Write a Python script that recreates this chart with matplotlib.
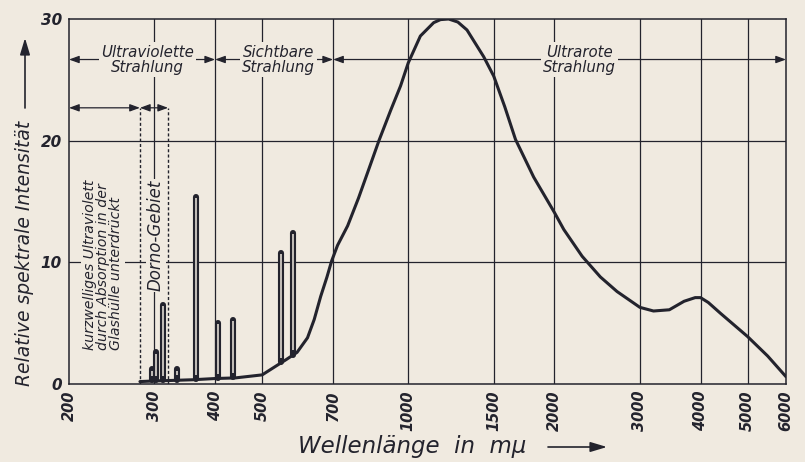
import numpy as np
import matplotlib
matplotlib.use('Agg')
import matplotlib.pyplot as plt

# continuum of the lamp spectrum (wavelength in m-mu, relative intensity)
cont_wl = [280, 300, 330, 360, 400, 440, 500, 540, 560, 590, 620, 640, 660, 680, 695,
           715, 750, 790, 830, 870, 920, 964, 1000, 1059, 1128, 1165, 1211, 1265, 1321,
           1430, 1500, 1580, 1663, 1813, 2000, 2091, 2281, 2487, 2692, 3000, 3200, 3450,
           3700, 3900, 4000, 4150, 4400, 5000, 5500, 6000]
cont_val = [0.2, 0.25, 0.3, 0.35, 0.45, 0.5, 0.75, 1.6, 2.0, 2.6, 3.8, 5.3, 7.2, 8.8, 10.1,
            11.4, 13.0, 15.3, 17.7, 20.0, 22.5, 24.5, 26.4, 28.6, 29.7, 29.95, 30.0, 29.75, 29.1,
            26.9, 25.3, 22.8, 20.1, 17.0, 14.1, 12.7, 10.5, 8.8, 7.6, 6.3, 6.0, 6.1,
            6.8, 7.1, 7.1, 6.7, 5.8, 3.9, 2.3, 0.6]

# mercury lines
line_wl = [297, 302, 313, 334, 365, 405, 436, 546, 578]
line_peak = [1.2, 2.6, 6.5, 1.2, 15.4, 5.0, 5.3, 10.8, 12.4]

xticks = [200, 300, 400, 500, 700, 1000, 1500, 2000, 3000, 4000, 5000, 6000]
yticks = [0, 10, 20, 30]

bg = '#f0eae0'
ink = '#23232d'
txt = dict(family='DejaVu Sans', style='oblique', color=ink)

fig = plt.figure(figsize=(8.05, 4.62), dpi=100, facecolor=bg)
ax = fig.add_axes([69/805, 1-384/462, 717/805, 365/462])
ax.set_facecolor(bg)
ax.set_xscale('log')
ax.set_xlim(200, 6000)
ax.set_ylim(0, 30)

ax.set_xticks(xticks)
ax.set_xticklabels([str(t) for t in xticks], rotation=90, fontsize=10.5,
                   fontweight='bold', **txt)
ax.xaxis.set_minor_locator(matplotlib.ticker.NullLocator())
ax.set_yticks(yticks)
ax.set_yticklabels([str(t) for t in yticks], fontsize=11, fontweight='bold', **txt)
ax.tick_params(length=0, pad=5)
for s in ax.spines.values():
    s.set_color(ink)
    s.set_linewidth(1.1)

# grid
for t in xticks[1:-1]:
    ax.axvline(t, color=ink, lw=0.9, zorder=1)
for t in [10, 20]:
    ax.axhline(t, color=ink, lw=0.9, zorder=1)

# continuum
ax.plot(cont_wl, cont_val, color=ink, lw=2.2, zorder=4, solid_capstyle='round')

# lines as narrow hollow spikes
lcont = np.log(cont_wl)
for wl, pk in zip(line_wl, line_peak):
    base = np.interp(np.log(wl), lcont, cont_val)
    ax.plot([wl, wl], [base + 0.05, pk], color=ink, lw=4.4, zorder=4,
            solid_capstyle='round')
    if pk - base > 0.6:
        ax.plot([wl, wl], [base + 0.4, pk - 0.1], color=bg, lw=1.1, zorder=5,
                solid_capstyle='butt')

# region arrows
row1 = 26.67
row2 = 22.7
astyle = '<|-|>,head_length=0.6,head_width=0.22'
for a, b in [(200, 400), (400, 700), (700, 6000)]:
    ax.annotate('', xy=(b, row1), xytext=(a, row1),
                arrowprops=dict(arrowstyle=astyle, color=ink, lw=0.9,
                                shrinkA=0, shrinkB=0), zorder=2)
for a, b in [(200, 280), (280, 320)]:
    ax.annotate('', xy=(b, row2), xytext=(a, row2),
                arrowprops=dict(arrowstyle=astyle, color=ink, lw=0.9,
                                shrinkA=0, shrinkB=0), zorder=2)
for d in [280, 320]:
    ax.plot([d, d], [0, row2], color=ink, lw=1.0, ls=(0, (2.2, 1.6)), zorder=2)

box = dict(facecolor=bg, edgecolor='none', pad=1.5)
ax.text(290, row1, 'Ultraviolette\nStrahlung', ha='center', va='center',
        fontsize=10.8, linespacing=1.0, bbox=box, zorder=3, **txt)
ax.text(540, row1, 'Sichtbare\nStrahlung', ha='center', va='center',
        fontsize=10.8, linespacing=1.0, bbox=box, zorder=3, **txt)
ax.text(2250, row1, 'Ultrarote\nStrahlung', ha='center', va='center',
        fontsize=10.8, linespacing=1.0, bbox=box, zorder=3, **txt)
ax.text(235, 2.8, 'kurzwelliges Ultraviolett\ndurch Absorption in der\nGlashülle unterdrückt',
        rotation=90, ha='center', va='bottom', multialignment='left',
        fontsize=10.2, linespacing=0.92, bbox=box, zorder=3, **txt)
ax.text(302, 12.2, 'Dorno-Gebiet', rotation=90, ha='center', va='center',
        fontsize=12, bbox=dict(facecolor=bg, edgecolor='none', pad=0.5),
        zorder=3, **txt)

# axis labels with arrows
fig.text(298/805, 1-446/462, 'Wellenlänge  in  mμ', ha='left', va='center',
         fontsize=16.5, **txt)
fig.text(25/805, 1-386/462, 'Relative spektrale Intensität', rotation=90,
         ha='center', va='bottom', fontsize=13.5, **txt)
ax.annotate('', xy=(607/805, 1-447/462), xytext=(548/805, 1-447/462),
            xycoords='figure fraction', textcoords='figure fraction',
            arrowprops=dict(arrowstyle='-|>,head_length=1.0,head_width=0.3',
                            color=ink, lw=1.2, shrinkA=0, shrinkB=0),
            annotation_clip=False)
ax.annotate('', xy=(25/805, 1-38/462), xytext=(25/805, 1-108/462),
            xycoords='figure fraction', textcoords='figure fraction',
            arrowprops=dict(arrowstyle='-|>,head_length=1.0,head_width=0.3',
                            color=ink, lw=1.2, shrinkA=0, shrinkB=0),
            annotation_clip=False)

fig.savefig('out.png', dpi=100, facecolor=bg)
